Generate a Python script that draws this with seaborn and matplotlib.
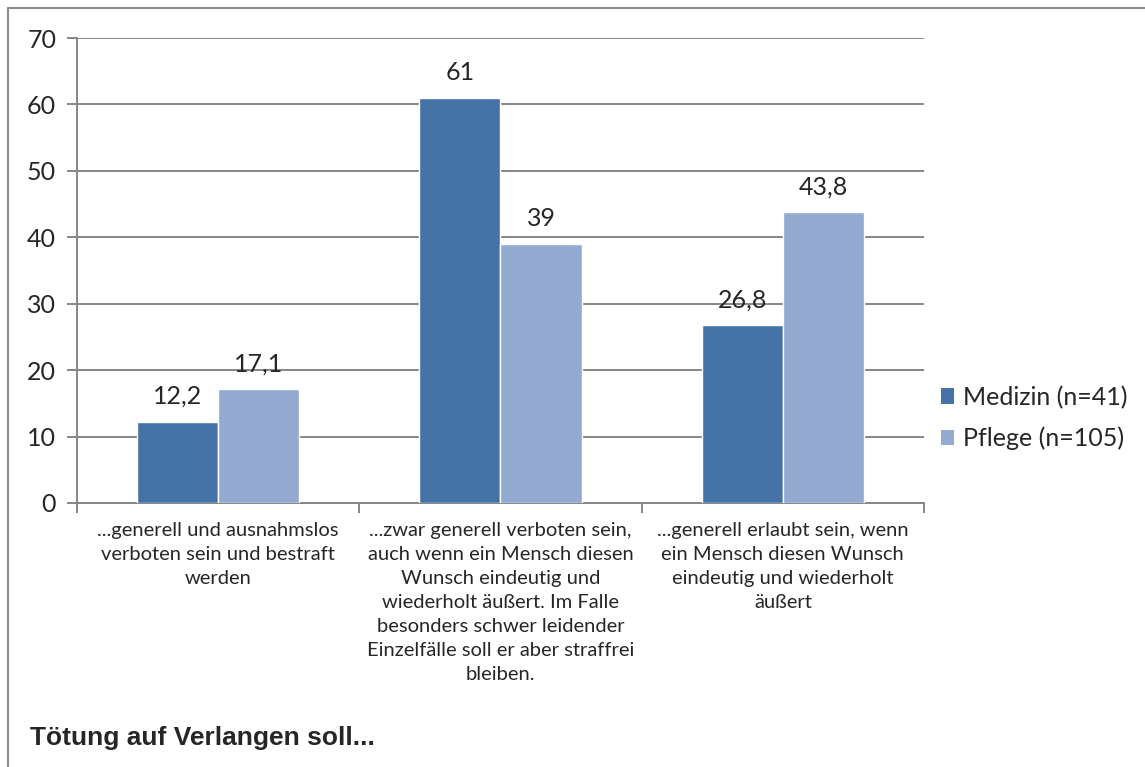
import pandas as pd
import seaborn as sns
import matplotlib.pyplot as plt
from matplotlib.lines import Line2D
from matplotlib.patches import Patch

categories = ['...generell und ausnahmslos\nverboten sein und bestraft\nwerden',
              '...zwar generell verboten sein,\nauch wenn ein Mensch diesen\nWunsch eindeutig und\nwiederholt äußert. Im Falle\nbesonders schwer leidender\nEinzelfälle soll er aber straffrei\nbleiben.',
              '...generell erlaubt sein, wenn\nein Mensch diesen Wunsch\neindeutig und wiederholt\näußert']
series = ['Medizin (n=41)', 'Pflege (n=105)']
medizin = [12.2, 61, 26.8]
pflege = [17.1, 39, 43.8]
yticks = [0, 10, 20, 30, 40, 50, 60, 70]
colors = ['#4573A7', '#94AAD1']

df = pd.DataFrame({
    'cat': categories * 2,
    'serie': [series[0]] * 3 + [series[1]] * 3,
    'wert': medizin + pflege,
})

sns.set_style('white')
plt.rcParams['font.family'] = ['Lato', 'DejaVu Sans']

fig = plt.figure(figsize=(11.45, 7.67), dpi=100)
ax = fig.add_axes([77/1145, 1 - 503/767, (924 - 77)/1145, (503 - 38)/767])

sns.barplot(data=df, x='cat', y='wert', hue='serie', palette=colors,
            width=0.574, gap=0, saturation=1, ax=ax, legend=False, zorder=3)

grid = '#868686'
ax.set_ylim(0, 70)
ax.set_xlim(-0.5, 2.5)
ax.set_yticks(yticks)
ax.set_yticklabels([str(t) for t in yticks], fontsize=18)
ax.yaxis.grid(True, color=grid, linewidth=1.4, zorder=0)
ax.set_axisbelow(True)
for s in ['top', 'right']:
    ax.spines[s].set_visible(False)
for s in ['left', 'bottom']:
    ax.spines[s].set_color(grid)
    ax.spines[s].set_linewidth(1.4)
ax.tick_params(axis='y', length=7, color=grid, width=1.4, pad=8, left=True)
ax.set_xticks([0, 1, 2])
ax.set_xticklabels(categories, fontsize=14.5, linespacing=1.5)
ax.tick_params(axis='x', length=0, pad=14)
ax.set_xticks([-0.5, 0.5, 1.5, 2.5], minor=True)
ax.tick_params(axis='x', which='minor', length=7, color=grid, width=1.4, bottom=True)
ax.set_xlabel('')
ax.set_ylabel('')

for cont in ax.containers:
    labs = [('%g' % b.get_height()).replace('.', ',') for b in cont]
    ax.bar_label(cont, labels=labs, padding=10, fontsize=18)

handles = [Patch(facecolor=c, edgecolor='none') for c in colors]
fig.legend(handles, series, loc='center left', bbox_to_anchor=(918/1145, 1 - 418/767),
           frameon=False, fontsize=18, handlelength=0.55, handleheight=0.55,
           handletextpad=0.35, labelspacing=0.72)

fig.text(30/1145, 1 - 738/767, 'Tötung auf Verlangen soll...', fontsize=19,
         fontweight='bold', family='Liberation Sans', va='center')

fig.add_artist(Line2D([8/1145, 1], [1 - 8/767, 1 - 8/767], color='#8c8c8c', linewidth=1.5))
fig.add_artist(Line2D([8/1145, 8/1145], [0, 1 - 8/767], color='#8c8c8c', linewidth=1.5))

fig.savefig('out.png', dpi=100)
